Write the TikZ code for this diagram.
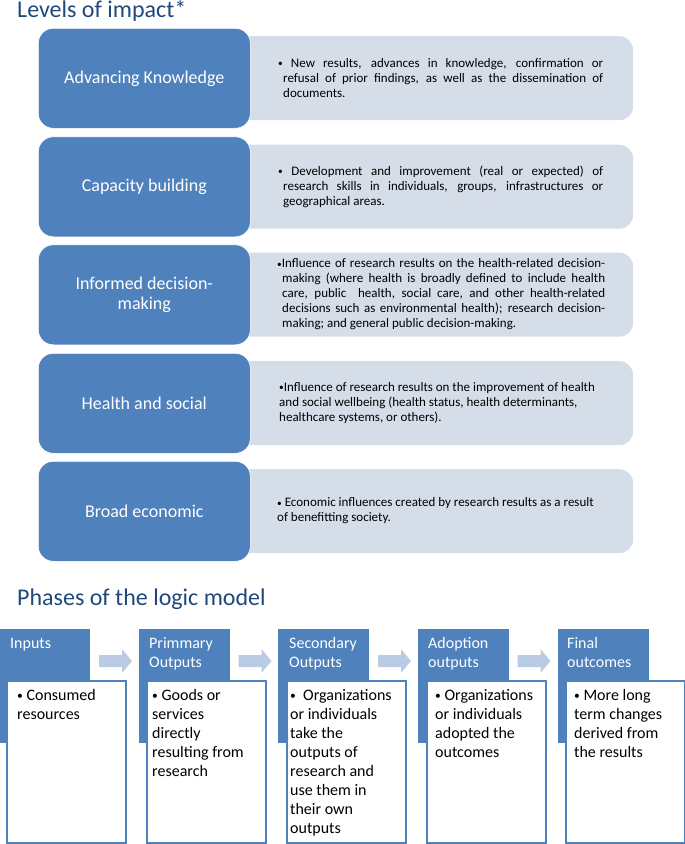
\documentclass[tikz,border=0pt]{standalone}
\usepackage{fontspec}
\setmainfont{Carlito}
\definecolor{tblue}{HTML}{1F497D}
\definecolor{mblue}{HTML}{4F81BD}
\definecolor{lblue}{HTML}{D5DDE9}
\definecolor{ablue}{HTML}{BACCE4}
\newcommand{\mybul}{\raisebox{0.12ex}{\scalebox{0.72}{\textbullet}}}
\begin{document}
\begin{tikzpicture}[x=1pt,y=-1pt,
  title/.style={anchor=base west, inner sep=0pt, text=tblue, font=\fontsize{24}{28}\selectfont},
  levelbox/.style={draw=white, line width=0.6pt, fill=mblue, rounded corners=15pt, minimum width=212pt, minimum height=100pt, anchor=north west, text=white, font=\fontsize{18}{20}\selectfont, align=center, inner sep=0pt},
  descbox/.style={fill=lblue, rounded corners=14pt, minimum width=433pt, minimum height=84pt, anchor=north west, inner sep=0pt},
  desctext/.style={anchor=west, inner sep=0pt, font=\fontsize{13}{15}\selectfont},
  headbox/.style={fill=mblue, minimum width=91pt, minimum height=114pt, anchor=north west, inner sep=0pt},
  headtext/.style={anchor=base west, inner sep=0pt, text=white, font=\fontsize{16}{19}\selectfont},
  bodybox/.style={draw=mblue, line width=1.5pt, fill=white, minimum width=119pt, minimum height=162pt, anchor=north west, inner sep=0pt},
  bodytext/.style={anchor=base west, inner sep=0pt, font=\fontsize{16}{19}\selectfont},
  phasearrow/.style={fill=ablue}
]
\useasboundingbox (0,0) rectangle (685,844);

% ---------- Levels of impact ----------
\node[title] (t1) at (17,17) {Levels of impact*};

% row 1
\node[descbox] (d1) at (200,36) {};
\node[levelbox] (l1) at (38,28) {Advancing Knowledge};
\node[desctext] (x1) at (278,78) {\parbox{325pt}{\hangindent=5pt\hangafter=1 \mybul\ New results, advances in knowledge, confirmation or\linebreak refusal of prior findings, as well as the dissemination of\linebreak documents.}};

% row 2
\node[descbox] (d2) at (200,144.5) {};
\node[levelbox] (l2) at (38,136.5) {Capacity building};
\node[desctext] (x2) at (278,186.5) {\parbox{325pt}{\hangindent=5pt\hangafter=1 \mybul\ Development and improvement (real or expected) of\linebreak research skills in individuals, groups, infrastructures or\linebreak geographical areas.}};

% row 3
\node[descbox] (d3) at (200,252.5) {};
\node[levelbox] (l3) at (38,244.5) {Informed decision-\\making};
\node[desctext] (x3) at (277,294.5) {\parbox{328pt}{\hangindent=5pt\hangafter=1 \mybul Influence of research results on the health-related decision-\linebreak making (where health is broadly defined to include health\linebreak care, public\ \ health, social care, and other health-related\linebreak decisions such as environmental health); research decision-\linebreak making; and general public decision-making.}};

% row 4
\node[descbox] (d4) at (200,361) {};
\node[levelbox] (l4) at (38,353) {Health and social};
\node[desctext] (x4) at (279,403) {\parbox{329pt}{\raggedright\hangindent=5pt\hangafter=1 \mybul Influence of research results on the improvement of health\\ and social wellbeing (health status, health determinants,\\ healthcare systems, or others).}};

% row 5
\node[descbox] (d5) at (200,469) {};
\node[levelbox] (l5) at (38,461) {Broad economic};
\node[desctext] (x5) at (277,511) {\parbox{329pt}{\raggedright\hangindent=6pt\hangafter=1 \mybul\ Economic influences created by research results as a result\\ of benefitting society.}};

% ---------- Phases of the logic model ----------
\node[title] (t2) at (17,605) {Phases of the logic model};

% Inputs
\node[headbox] (h1) at (-1,629) {};
\node[headtext] (ht1) at (10,648) {\parbox[t]{85pt}{Inputs}};
\node[bodybox] (b1) at (6,680) {};
\node[bodytext] (bt1) at (17,700) {\parbox[t]{110pt}{\raggedright \mybul\ Consumed\\resources}};

% Primary outputs
\node[headbox] (h2) at (139,629) {};
\node[headtext] (ht2) at (149,648) {\parbox[t]{85pt}{Primmary\\Outputs}};
\node[bodybox] (b2) at (146,680) {};
\node[bodytext] (bt2) at (152,700) {\parbox[t]{110pt}{\raggedright \mybul\ Goods or\\services\\directly\\resulting from\\research}};

% Secondary outputs
\node[headbox] (h3) at (278,629) {};
\node[headtext] (ht3) at (289,648) {\parbox[t]{85pt}{Secondary\\Outputs}};
\node[bodybox] (b3) at (286,680) {};
\node[bodytext] (bt3) at (290,700) {\parbox[t]{115pt}{\raggedright \mybul\ \ Organizations\\or individuals\\take the\\outputs of\\research and\\use them in\\their own\\outputs}};

% Adoption outputs
\node[headbox] (h4) at (418,629) {};
\node[headtext] (ht4) at (428,648) {\parbox[t]{85pt}{Adoption\\outputs}};
\node[bodybox] (b4) at (426,680) {};
\node[bodytext] (bt4) at (435,700) {\parbox[t]{110pt}{\raggedright \mybul\ Organizations\\or individuals\\adopted the\\outcomes}};

% Final outcomes
\node[headbox] (h5) at (558,629) {};
\node[headtext] (ht5) at (567,648) {\parbox[t]{85pt}{Final\\outcomes}};
\node[bodybox] (b5) at (565,680) {};
\node[bodytext] (bt5) at (574,700) {\parbox[t]{110pt}{\raggedright \mybul\ More long\\term changes\\derived from\\the results}};

% block arrows between phases
\foreach \ax in {99,238.5,378,517.5}{
  \fill[phasearrow] (\ax,655) -- (\ax+23,655) -- (\ax+23,649) -- (\ax+33,661) -- (\ax+23,673) -- (\ax+23,667) -- (\ax,667) -- cycle;
}
\end{tikzpicture}
\end{document}
